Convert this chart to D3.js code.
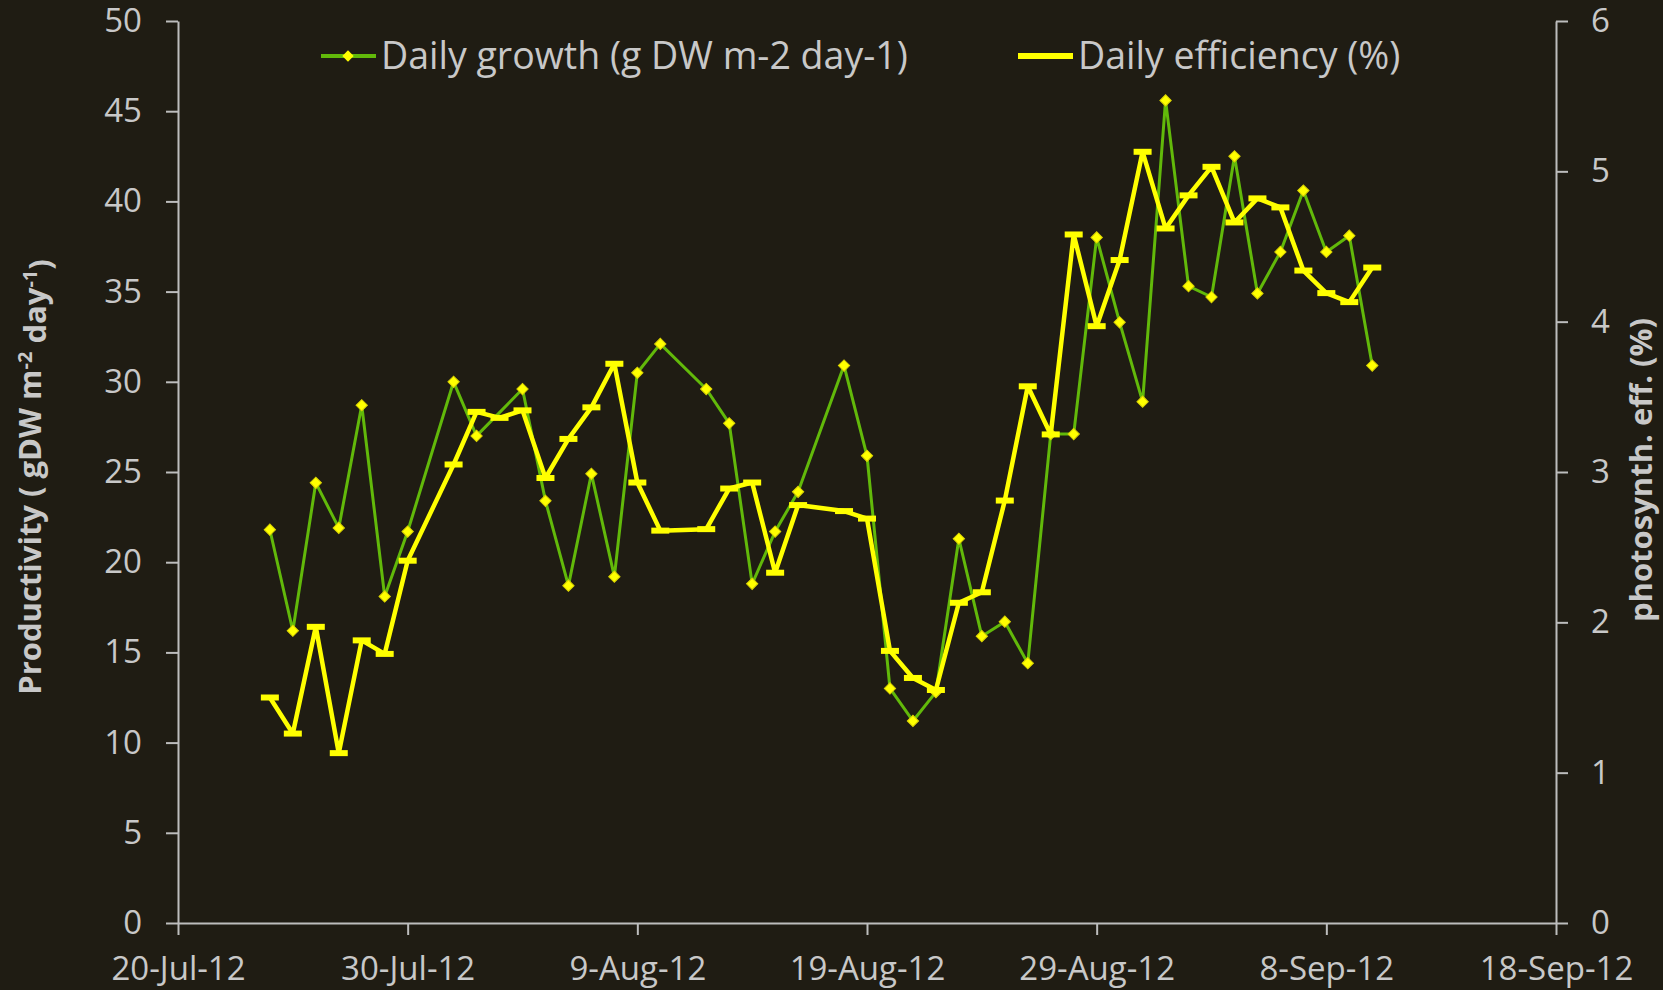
<!DOCTYPE html>
<html>
<head>
<meta charset="utf-8">
<script src="https://cdn.jsdelivr.net/npm/d3@7"></script>
<style>
  html, body { margin: 0; padding: 0; background: #1f1c13; }
  svg { display: block; }
  text { font-family: "Open Sans", sans-serif; fill: #c8c8c8; }
</style>
</head>
<body>
<svg id="chart" width="1663" height="990"></svg>
<script>
// daily growth (left axis, g DW m-2 day-1)
var growthDates = ['2012-07-24', '2012-07-25', '2012-07-26', '2012-07-27', '2012-07-28', '2012-07-29', '2012-07-30',
    '2012-08-01', '2012-08-02', '2012-08-04', '2012-08-05', '2012-08-06', '2012-08-07', '2012-08-08', '2012-08-09',
    '2012-08-10', '2012-08-12', '2012-08-13', '2012-08-14', '2012-08-15', '2012-08-16', '2012-08-18', '2012-08-19',
    '2012-08-20', '2012-08-21', '2012-08-22', '2012-08-23', '2012-08-24', '2012-08-25', '2012-08-26', '2012-08-27',
    '2012-08-28', '2012-08-29', '2012-08-30', '2012-08-31', '2012-09-01', '2012-09-02', '2012-09-03', '2012-09-04',
    '2012-09-05', '2012-09-06', '2012-09-07', '2012-09-08', '2012-09-09', '2012-09-10'];
var growthValues = [21.8, 16.2, 24.4, 21.9, 28.7, 18.1, 21.7,
    30.0, 27.0, 29.6, 23.4, 18.7, 24.9, 19.2, 30.5,
    32.1, 29.6, 27.7, 18.8, 21.7, 23.9, 30.9, 25.9,
    13.0, 11.2, 12.8, 21.3, 15.9, 16.7, 14.4, 27.1,
    27.1, 38.0, 33.3, 28.9, 45.6, 35.3, 34.7, 42.5,
    34.9, 37.2, 40.6, 37.2, 38.1, 30.9];

// daily efficiency (right axis, %)
var effDates = ['2012-07-24', '2012-07-25', '2012-07-26', '2012-07-27', '2012-07-28', '2012-07-29', '2012-07-30',
    '2012-08-01', '2012-08-02', '2012-08-03', '2012-08-04', '2012-08-05', '2012-08-06', '2012-08-07', '2012-08-08',
    '2012-08-09', '2012-08-10', '2012-08-12', '2012-08-13', '2012-08-14', '2012-08-15', '2012-08-16', '2012-08-18',
    '2012-08-19', '2012-08-20', '2012-08-21', '2012-08-22', '2012-08-23', '2012-08-24', '2012-08-25', '2012-08-26',
    '2012-08-27', '2012-08-28', '2012-08-29', '2012-08-30', '2012-08-31', '2012-09-01', '2012-09-02', '2012-09-03',
    '2012-09-04', '2012-09-05', '2012-09-06', '2012-09-07', '2012-09-08', '2012-09-09', '2012-09-10'];
var effValues = [1.50, 1.26, 1.97, 1.13, 1.88, 1.79, 2.41,
    3.05, 3.40, 3.36, 3.41, 2.96, 3.22, 3.43, 3.72,
    2.93, 2.61, 2.62, 2.89, 2.93, 2.33, 2.78, 2.74,
    2.69, 1.81, 1.63, 1.55, 2.13, 2.20, 2.81, 3.57,
    3.25, 4.58, 3.97, 4.41, 5.13, 4.62, 4.84, 5.03,
    4.66, 4.82, 4.76, 4.34, 4.19, 4.13, 4.36];

var xTickDates = ['2012-07-20', '2012-07-30', '2012-08-09', '2012-08-19', '2012-08-29', '2012-09-08', '2012-09-18'];
var leftTicks = [0, 5, 10, 15, 20, 25, 30, 35, 40, 45, 50];
var rightTicks = [0, 1, 2, 3, 4, 5, 6];

var seriesNames = ['Daily growth (g DW m-2 day-1)', 'Daily efficiency (%)'];

var parseDate = d3.timeParse('%Y-%m-%d');
var fmtDate = d3.timeFormat('%-d-%b-%y');

var svg = d3.select('#chart');

// plot box (window.top is read-only, so no bare "top" here)
var plotLeft = 178, plotRight = 1556, plotTop = 21, plotBottom = 923;

var x = d3.scaleTime()
    .domain([parseDate(xTickDates[0]), parseDate(xTickDates[xTickDates.length - 1])])
    .range([plotLeft, plotRight]);

var yL = d3.scaleLinear().domain([0, 50]).range([plotBottom, plotTop]);
var yR = d3.scaleLinear().domain([0, 6]).range([plotBottom, plotTop]);

var growth = growthDates.map(function (d, i) {
    return {date: parseDate(d), value: growthValues[i]};
});
var eff = effDates.map(function (d, i) {
    return {date: parseDate(d), value: effValues[i]};
});

// axes
function styleAxis(g) {
    g.select('.domain').attr('stroke', '#bdbdbd').attr('stroke-width', 2);
    g.selectAll('.tick line').attr('stroke', '#bdbdbd').attr('stroke-width', 2);
    g.selectAll('.tick text')
        .attr('fill', '#c8c8c8')
        .style('font-size', '33px')
        .style('font-family', '"Open Sans", sans-serif');
}

svg.append('g')
    .attr('transform', 'translate(' + plotLeft + ',0)')
    .call(d3.axisLeft(yL).tickValues(leftTicks).tickSize(12).tickSizeOuter(0).tickPadding(24))
    .call(styleAxis);

svg.append('g')
    .attr('transform', 'translate(' + plotRight + ',0)')
    .call(d3.axisRight(yR).tickValues(rightTicks).tickFormat(d3.format('d'))
        .tickSize(12).tickSizeOuter(0).tickPadding(23))
    .call(styleAxis);

svg.append('g')
    .attr('transform', 'translate(0,' + plotBottom + ')')
    .call(d3.axisBottom(x).tickValues(xTickDates.map(parseDate)).tickFormat(fmtDate)
        .tickSize(12).tickSizeOuter(0).tickPadding(22))
    .call(styleAxis);

// growth series
var lineL = d3.line()
    .x(function (d) { return x(d.date); })
    .y(function (d) { return yL(d.value); });

svg.append('path')
    .datum(growth)
    .attr('d', lineL)
    .attr('fill', 'none')
    .attr('stroke', '#62b90a')
    .attr('stroke-width', 3)
    .attr('stroke-linejoin', 'round');

var diamond = d3.symbol().type(d3.symbolSquare).size(64);

svg.append('g').selectAll('path')
    .data(growth)
    .enter()
    .append('path')
    .attr('d', diamond)
    .attr('transform', function (d) {
        return 'translate(' + x(d.date) + ',' + yL(d.value) + ') rotate(45)';
    })
    .attr('fill', '#ffff00')
    .attr('stroke', '#d9d200')
    .attr('stroke-width', 1);

// efficiency series
var lineR = d3.line()
    .x(function (d) { return x(d.date); })
    .y(function (d) { return yR(d.value); });

svg.append('path')
    .datum(eff)
    .attr('d', lineR)
    .attr('fill', 'none')
    .attr('stroke', '#ffff00')
    .attr('stroke-width', 4.5)
    .attr('stroke-linejoin', 'round');

svg.append('g').selectAll('rect')
    .data(eff)
    .enter()
    .append('rect')
    .attr('x', function (d) { return x(d.date) - 9; })
    .attr('y', function (d) { return yR(d.value) - 3; })
    .attr('width', 18)
    .attr('height', 6)
    .attr('fill', '#ffff00');

// legend
var legend = svg.append('g');

legend.append('line')
    .attr('x1', 321).attr('x2', 376).attr('y1', 56).attr('y2', 56)
    .attr('stroke', '#62b90a').attr('stroke-width', 4);
legend.append('path')
    .attr('d', diamond)
    .attr('transform', 'translate(348,56) rotate(45)')
    .attr('fill', '#ffff00');
legend.append('text')
    .attr('x', 381).attr('y', 56).attr('dy', '0.35em')
    .style('font-size', '37.5px')
    .text(seriesNames[0]);

legend.append('line')
    .attr('x1', 1018).attr('x2', 1073).attr('y1', 56).attr('y2', 56)
    .attr('stroke', '#ffff00').attr('stroke-width', 6);
legend.append('text')
    .attr('x', 1078).attr('y', 56).attr('dy', '0.35em')
    .style('font-size', '37.5px')
    .text(seriesNames[1]);

// axis titles
var titleL = svg.append('text')
    .attr('transform', 'translate(30,477) rotate(-90)')
    .attr('text-anchor', 'middle')
    .attr('dy', '0.35em')
    .style('font-size', '31px')
    .style('font-weight', 'bold');
titleL.append('tspan').text('Productivity ( gDW m');
titleL.append('tspan').attr('dy', '-0.45em').style('font-size', '20px').text('-2');
titleL.append('tspan').attr('dy', '0.45em').text(' day');
titleL.append('tspan').attr('dy', '-0.45em').style('font-size', '20px').text('-1');
titleL.append('tspan').attr('dy', '0.45em').text(')');

svg.append('text')
    .attr('transform', 'translate(1641,470) rotate(-90)')
    .attr('text-anchor', 'middle')
    .attr('dy', '0.35em')
    .style('font-size', '31px')
    .style('font-weight', 'bold')
    .text('photosynth. eff. (%)');
</script>
</body>
</html>
